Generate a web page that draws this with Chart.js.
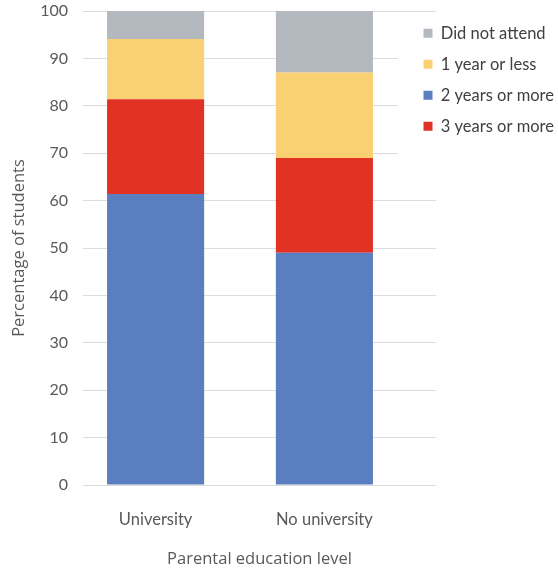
<!DOCTYPE html>
<html>
<head>
<meta charset="utf-8">
<script src="https://cdn.jsdelivr.net/npm/chart.js@4.4.1/dist/chart.umd.min.js"></script>
<style>
  html, body { margin: 0; padding: 0; background: #ffffff; }
  #wrap { width: 558px; height: 571px; }
</style>
</head>
<body>
<div id="wrap"><canvas id="chart" width="558" height="571"></canvas></div>
<script>
// Share of students by years of early childhood education, split by parental education
const categories = ['University', 'No university'];
const twoYearsOrMore = [61.4, 49];
const threeYearsOrMore = [20, 20];
const oneYearOrLess = [12.7, 18];
const didNotAttend = [5.9, 13];
const yTicks = [0, 10, 20, 30, 40, 50, 60, 70, 80, 90, 100];
const legendOrder = ['Did not attend', '1 year or less', '2 years or more', '3 years or more'];

Chart.defaults.font.family = 'Lato, "Open Sans", sans-serif';
const titleFamily = '"Open Sans", Lato, sans-serif';

const points = (arr) => arr.map((v, i) => ({ x: i, y: v }));

// Moves the legend into the upper right of the plot and paints a white panel behind it
const legendPanel = {
  id: 'legendPanel',
  afterLayout(chart) {
    const lg = chart.legend;
    if (!lg) return;
    const w = lg.width;
    lg.left = 409;
    lg.right = lg.left + w;
    lg.top = 10.55;
    lg.bottom = 571;
    if (!lg._panelWrapped) {
      const origDraw = lg.draw.bind(lg);
      lg.draw = function (area) {
        const ctx = chart.ctx;
        ctx.save();
        ctx.fillStyle = '#ffffff';
        ctx.fillRect(398, 16, 160, 156);
        ctx.restore();
        origDraw(area);
      };
      lg._panelWrapped = true;
    }
  }
};

new Chart(document.getElementById('chart'), {
  type: 'bar',
  data: {
    datasets: [
      { label: '2 years or more', data: points(twoYearsOrMore), backgroundColor: '#5a7fc0' },
      { label: '3 years or more', data: points(threeYearsOrMore), backgroundColor: '#e23224' },
      { label: '1 year or less', data: points(oneYearOrLess), backgroundColor: '#f9d173' },
      { label: 'Did not attend', data: points(didNotAttend), backgroundColor: '#b4b9bf' }
    ]
  },
  options: {
    responsive: false,
    animation: false,
    categoryPercentage: 1,
    barPercentage: 0.575,
    layout: { padding: { top: 11, right: 122, bottom: 0, left: 0 } },
    plugins: {
      tooltip: { enabled: false },
      legend: {
        position: 'chartArea',
        align: 'start',
        labels: {
          boxWidth: 9,
          boxHeight: 9,
          padding: 14.5,
          color: '#404040',
          font: { size: 16.5 },
          sort: (a, b) => legendOrder.indexOf(a.text) - legendOrder.indexOf(b.text)
        }
      }
    },
    scales: {
      x: {
        type: 'linear',
        offset: false,
        stacked: true,
        min: -0.43,
        max: 1.661,
        grid: { display: false },
        border: { display: false },
        afterBuildTicks: (scale) => { scale.ticks = categories.map((_, i) => ({ value: i })); },
        afterFit: (scale) => { scale.height = 86; },
        ticks: {
          callback: (v) => categories[v],
          padding: 17,
          maxRotation: 0,
          autoSkip: false,
          color: '#595959',
          font: { size: 16.5 }
        },
        title: {
          display: true,
          text: 'Parental education level',
          color: '#595959',
          font: { size: 16.5, family: titleFamily },
          padding: { top: 0, bottom: 1.6 }
        }
      },
      y: {
        stacked: true,
        min: 0,
        max: 100,
        afterBuildTicks: (scale) => { scale.ticks = yTicks.map((v) => ({ value: v })); },
        afterFit: (scale) => {
          scale.width = 83;
          scale.paddingTop = 0;
          scale.paddingBottom = 0;
        },
        grid: { color: '#dcdcdc', lineWidth: 1, drawTicks: false },
        border: { display: false },
        ticks: { padding: 15, color: '#595959', font: { size: 16 } },
        title: {
          display: true,
          text: 'Percentage of students',
          color: '#595959',
          font: { size: 16.5, family: titleFamily },
          padding: { top: 9.6, bottom: 0 }
        }
      }
    }
  },
  plugins: [legendPanel]
});
</script>
</body>
</html>
